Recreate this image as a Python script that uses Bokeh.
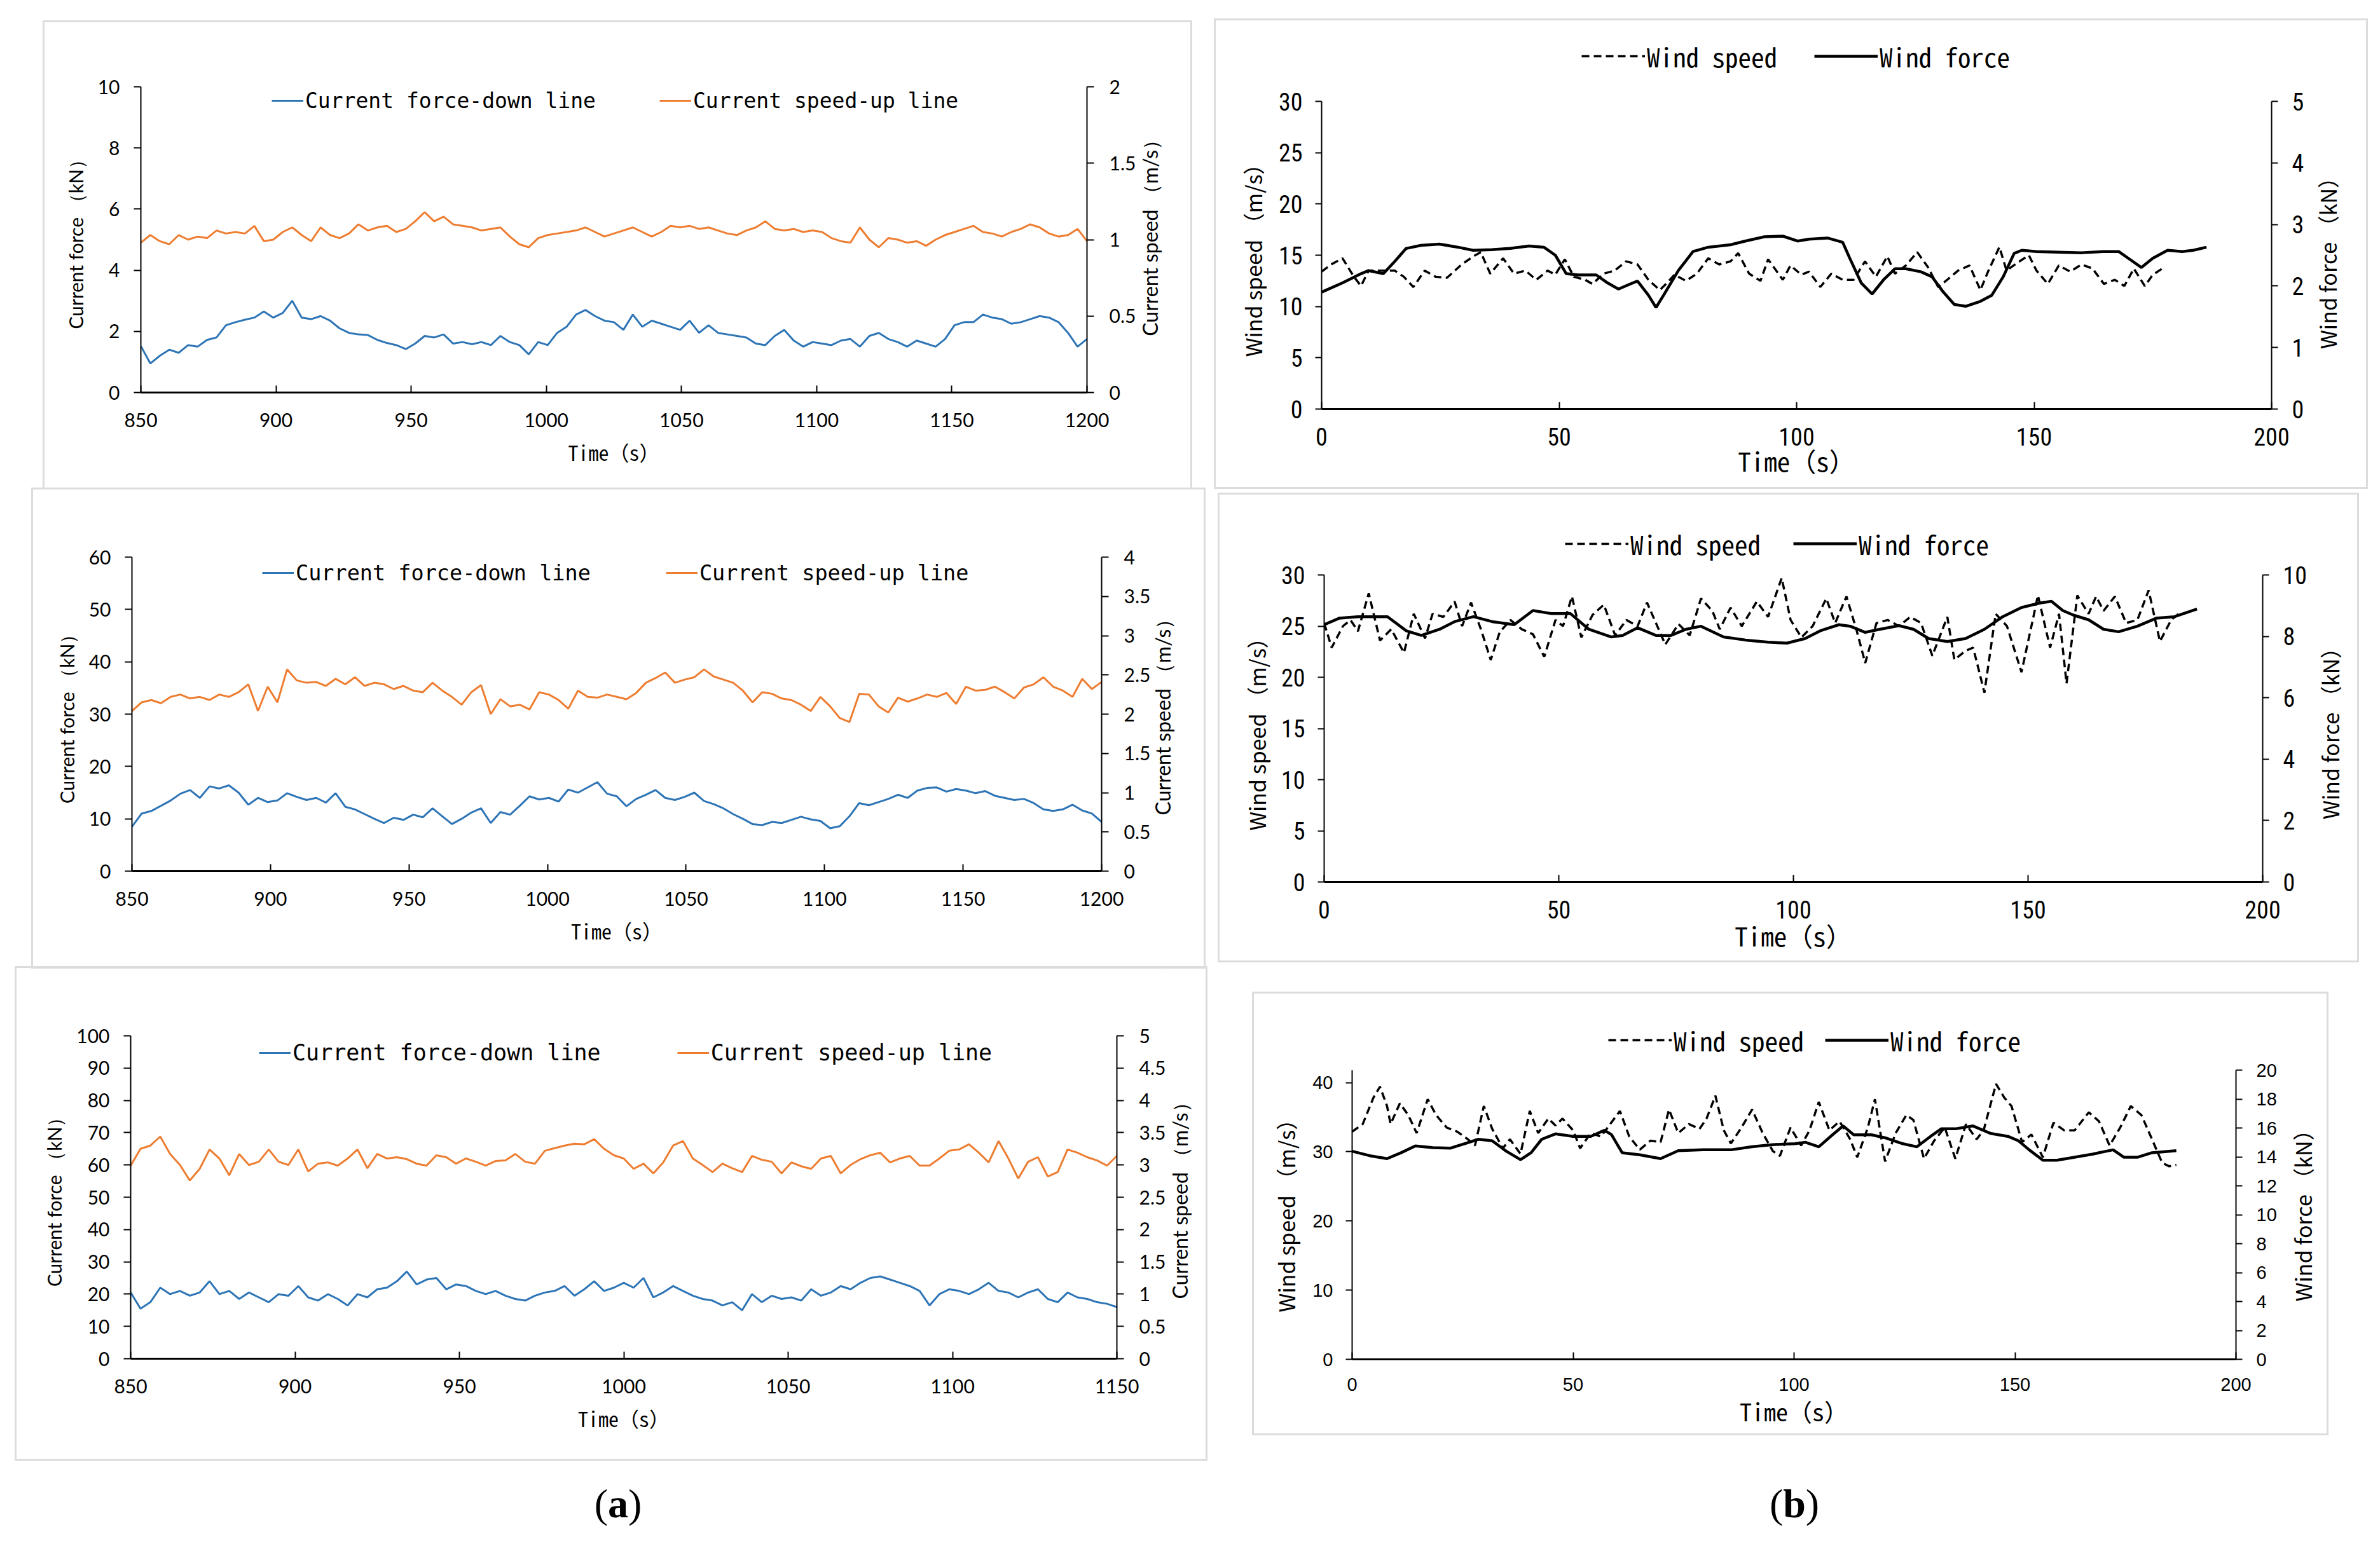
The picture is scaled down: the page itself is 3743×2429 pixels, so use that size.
import math
import numpy as np
from bokeh.plotting import figure
from bokeh.models import Range1d, LinearAxis, FixedTicker, Legend, LegendItem, Spacer, Div
from bokeh.layouts import row, column
from bokeh.embed import file_html
from bokeh.resources import INLINE
from bokeh.core.properties import value

# ---------------------------------------------------------------- data
# (a) current tests: force on the down line (kN) and current speed on the up line (m/s)
cur1_force = [1.52, 0.95, 1.20, 1.40, 1.30, 1.55, 1.50, 1.72, 1.80, 2.20,
              2.30, 2.38, 2.45, 2.65, 2.45, 2.60, 3.00, 2.45, 2.40, 2.50,
              2.35, 2.10, 1.95, 1.90, 1.88, 1.72, 1.62, 1.55, 1.42, 1.60,
              1.85, 1.80, 1.90, 1.60, 1.65, 1.58, 1.65, 1.55, 1.85, 1.65,
              1.55, 1.25, 1.65, 1.55, 1.95, 2.15, 2.55, 2.70, 2.50, 2.35,
              2.30, 2.05, 2.55, 2.15, 2.35, 2.25, 2.15, 2.05, 2.35, 1.95,
              2.20, 1.95, 1.90, 1.85, 1.80, 1.60, 1.55, 1.85, 2.05, 1.70,
              1.50, 1.65, 1.60, 1.55, 1.70, 1.75, 1.50, 1.85, 1.95, 1.75,
              1.65, 1.50, 1.70, 1.60, 1.50, 1.75, 2.20, 2.30, 2.30, 2.55,
              2.45, 2.40, 2.25, 2.30, 2.40, 2.50, 2.45, 2.30, 1.95, 1.50,
              1.75]
cur1_speed = [0.98, 1.03, 0.99, 0.97, 1.03, 1.00, 1.02, 1.01, 1.06, 1.04,
              1.05, 1.04, 1.09, 0.99, 1.00, 1.05, 1.08, 1.03, 0.99, 1.08,
              1.03, 1.01, 1.04, 1.10, 1.06, 1.08, 1.09, 1.05, 1.07, 1.12,
              1.18, 1.12, 1.15, 1.10, 1.09, 1.08, 1.06, 1.07, 1.08, 1.02,
              0.97, 0.95, 1.01, 1.03, 1.04, 1.05, 1.06, 1.08, 1.05, 1.02,
              1.04, 1.06, 1.08, 1.05, 1.02, 1.05, 1.09, 1.08, 1.09, 1.07,
              1.08, 1.06, 1.04, 1.03, 1.06, 1.08, 1.12, 1.07, 1.06, 1.07,
              1.05, 1.06, 1.05, 1.01, 0.99, 0.98, 1.08, 1.00, 0.95, 1.01,
              1.00, 0.98, 0.99, 0.96, 1.00, 1.03, 1.05, 1.07, 1.09, 1.05,
              1.04, 1.02, 1.05, 1.07, 1.10, 1.08, 1.04, 1.02, 1.03, 1.07,
              0.99]
cur2_force = [8.5, 11.0, 11.5, 12.5, 13.5, 14.8, 15.5, 14.0, 16.2, 15.8,
              16.4, 15.0, 12.7, 14.0, 13.2, 13.5, 14.9, 14.2, 13.6, 14.0,
              13.1, 14.9, 12.3, 11.8, 10.9, 10.0, 9.2, 10.2, 9.8, 10.8,
              10.3, 12.0, 10.5, 9.0, 10.0, 11.2, 12.0, 9.2, 11.3, 10.8,
              12.5, 14.3, 13.7, 14.0, 13.3, 15.6, 15.0, 16.0, 17.0, 14.8,
              14.3, 12.4, 13.8, 14.6, 15.5, 14.0, 13.6, 14.2, 15.0, 13.4,
              12.8, 12.0, 10.9, 10.0, 9.0, 8.8, 9.4, 9.2, 9.8, 10.4,
              9.9, 9.6, 8.2, 8.6, 10.5, 13.0, 12.6, 13.2, 13.8, 14.6,
              14.0, 15.4, 15.9, 16.0, 15.2, 15.7, 15.4, 14.9, 15.3, 14.4,
              14.0, 13.6, 13.8, 13.0, 11.8, 11.5, 11.8, 12.7, 11.6, 11.0,
              9.4]
cur2_speed = [2.04, 2.15, 2.18, 2.14, 2.22, 2.25, 2.20, 2.22, 2.18, 2.25,
              2.22, 2.28, 2.38, 2.04, 2.35, 2.15, 2.57, 2.43, 2.40, 2.41,
              2.36, 2.45, 2.38, 2.47, 2.36, 2.40, 2.38, 2.32, 2.36, 2.30,
              2.28, 2.40, 2.30, 2.22, 2.12, 2.28, 2.37, 2.00, 2.19, 2.10,
              2.12, 2.06, 2.28, 2.25, 2.18, 2.07, 2.30, 2.22, 2.21, 2.25,
              2.22, 2.19, 2.27, 2.40, 2.46, 2.53, 2.40, 2.44, 2.47, 2.57,
              2.48, 2.44, 2.40, 2.30, 2.15, 2.28, 2.26, 2.20, 2.18, 2.12,
              2.04, 2.22, 2.10, 1.95, 1.90, 2.26, 2.25, 2.10, 2.02, 2.21,
              2.16, 2.20, 2.25, 2.22, 2.27, 2.13, 2.35, 2.30, 2.31, 2.35,
              2.28, 2.20, 2.34, 2.38, 2.47, 2.35, 2.30, 2.22, 2.45, 2.32,
              2.41]
cur3_force = [20.5, 15.5, 17.5, 22.0, 20.0, 21.0, 19.5, 20.5, 24.0, 20.0,
              21.0, 18.5, 20.5, 19.0, 17.5, 20.0, 19.5, 22.5, 19.0, 18.0,
              20.0, 18.5, 16.5, 20.0, 19.0, 21.5, 22.0, 24.0, 27.0, 23.0,
              24.5, 25.0, 21.5, 23.0, 22.5, 21.0, 20.0, 21.0, 19.5, 18.5,
              18.0, 19.5, 20.5, 21.0, 22.5, 19.5, 21.5, 24.0, 21.0, 22.0,
              23.5, 22.0, 25.0, 19.0, 20.5, 22.5, 21.0, 19.5, 18.5, 18.0,
              16.5, 17.5, 15.0, 20.0, 17.5, 19.5, 18.5, 19.0, 18.0, 21.5,
              19.5, 20.5, 22.5, 21.5, 23.5, 25.0, 25.5, 24.5, 23.5, 22.5,
              21.0, 16.5, 20.0, 21.5, 21.0, 20.0, 21.5, 23.5, 21.0, 20.5,
              19.0, 20.5, 21.5, 18.5, 17.5, 20.5, 19.0, 18.5, 17.5, 17.0,
              16.0]
cur3_speed = [2.99, 3.25, 3.30, 3.44, 3.17, 3.00, 2.76, 2.94, 3.24, 3.10,
              2.84, 3.17, 3.00, 3.05, 3.24, 3.05, 3.00, 3.24, 2.90, 3.02,
              3.04, 2.99, 3.10, 3.24, 2.95, 3.17, 3.10, 3.12, 3.09, 3.02,
              2.99, 3.15, 3.12, 3.02, 3.10, 3.05, 2.99, 3.06, 3.07, 3.17,
              3.05, 3.02, 3.22, 3.26, 3.30, 3.33, 3.32, 3.40, 3.25, 3.15,
              3.10, 2.94, 3.02, 2.87, 3.04, 3.30, 3.37, 3.10, 3.00, 2.89,
              3.02, 2.95, 2.89, 3.14, 3.08, 3.05, 2.87, 3.04, 2.98, 2.94,
              3.10, 3.14, 2.87, 3.00, 3.09, 3.15, 3.19, 3.04, 3.10, 3.14,
              2.99, 2.99, 3.10, 3.22, 3.24, 3.32, 3.19, 3.04, 3.37, 3.10,
              2.79, 3.05, 3.12, 2.82, 2.89, 3.24, 3.19, 3.12, 3.07, 2.99,
              3.14]
cur_spans = [(850, 1200), (850, 1200), (850, 1150)]   # sampled evenly over each record

# (b) wind tests: wind speed (m/s) and wind force (kN)
wind1_speed_t = [0, 2, 4.4, 6.8, 8.3, 9.9, 12.3, 15.4, 17.3, 19.3, 21.7, 24, 26.4, 29.5, 32, 33.5,
                 35.5, 38.2, 40.5, 42.9, 45.2, 47.6, 49.2, 51.2, 53.1, 55.5, 57, 59.4, 61.7, 64.1,
                 66.5, 68.8, 71.2, 72.7, 74.3, 76.7, 79, 81.4, 83.7, 86.1, 87.7, 90, 92.4, 94, 97.1,
                 98.7, 101, 102.6, 105, 107.3, 109.7, 112, 114.4, 116.7, 119.1, 120.7, 123, 125.4,
                 127.7, 129.8, 131.7, 134, 136.4, 138.7, 140.3, 142.7, 144.2, 146.6, 148.9, 150.5,
                 152.9, 155.2, 157.6, 160, 162.3, 164.7, 167, 169, 171, 173.3, 175, 177]
wind1_speed = [13.4, 14.1, 14.7, 12.9, 12.0, 13.5, 13.5, 13.5, 12.9, 11.9, 13.5, 12.9, 12.8, 14.1,
               14.9, 15.3, 13.2, 14.7, 13.2, 13.5, 12.6, 13.5, 13.1, 14.6, 12.9, 12.6, 12.2, 13.2,
               13.5, 14.4, 14.1, 12.6, 11.6, 12.3, 13.1, 12.5, 13.2, 14.7, 14.1, 14.4, 15.2, 13.2,
               12.5, 14.6, 12.6, 14.0, 13.1, 13.4, 11.9, 13.2, 12.6, 12.6, 14.4, 12.9, 14.9, 13.2,
               14.0, 15.3, 13.8, 11.9, 12.6, 13.5, 14.0, 11.6, 13.4, 15.8, 13.5, 14.3, 15.0, 13.5,
               12.2, 14.0, 13.4, 14.1, 13.7, 12.2, 12.6, 12.0, 13.7, 12.0, 13.1, 13.7]
wind1_force_t = [0, 4.4, 8.3, 9.9, 13, 15.4, 17.8, 20.9, 24.8, 28.7, 31.9, 35.8, 39.7, 43.7, 46.8,
                 49.2, 51.5, 53.9, 57.8, 60.2, 62.5, 64.9, 66.5, 68.8, 70.4, 72, 75.1, 78.2, 81.4,
                 86.1, 89.2, 93.2, 97.1, 100.2, 102.6, 106.5, 109.7, 111.2, 113.6, 115.9, 118.3,
                 120.7, 123, 126.2, 128.5, 130.9, 133.2, 135.6, 138.7, 141.1, 143.5, 145.8, 147.4,
                 150.5, 155.2, 160, 164.7, 167.8, 170.2, 172.6, 175, 178.1, 181.2, 183.5, 186.3]
wind1_force = [1.90, 2.05, 2.20, 2.25, 2.20, 2.40, 2.61, 2.66, 2.68, 2.63, 2.58, 2.59, 2.61, 2.65,
               2.63, 2.50, 2.20, 2.18, 2.18, 2.05, 1.95, 2.03, 2.08, 1.85, 1.65, 1.85, 2.25, 2.56,
               2.63, 2.67, 2.73, 2.80, 2.81, 2.73, 2.76, 2.78, 2.71, 2.45, 2.05, 1.87, 2.10, 2.28,
               2.28, 2.23, 2.15, 1.90, 1.70, 1.67, 1.75, 1.85, 2.15, 2.53, 2.58, 2.56, 2.55, 2.54,
               2.56, 2.56, 2.43, 2.30, 2.45, 2.58, 2.56, 2.58, 2.63]

wind2_speed_t = [0, 1.6, 4, 5.6, 7.2, 9.5, 11.9, 14.3, 17, 19.1, 21.5, 23.1, 25.4, 27.8, 29.4, 31.3,
                 33.4, 35.5, 37.4, 39.7, 42.1, 44.5, 46.9, 49.3, 50.9, 52.8, 54.8, 57.2, 59.6, 62,
                 64.4, 66.8, 68.8, 70.7, 72.7, 75.5, 77.9, 80.3, 82.7, 84.3, 86.6, 89, 92.2, 94.6,
                 97.5, 99.4, 101.7, 104.1, 107, 108.9, 111.3, 113.4, 115.3, 117.7, 120.1, 122.5,
                 124.9, 127.2, 129.6, 132.8, 134.3, 136.7, 138.3, 140.7, 143.1, 145.5, 148.6, 151,
                 152.1, 154.7, 156.6, 158.2, 160.5, 162.9, 164.5, 166.1, 168.5, 170.9, 173.3, 175.7,
                 178.1, 180.5, 182.1]
wind2_speed = [25.3, 22.9, 25.0, 25.6, 24.5, 28.2, 23.6, 24.7, 22.4, 26.2, 23.8, 26.2, 25.9, 27.4,
               25.0, 27.3, 24.7, 21.7, 24.4, 25.6, 24.7, 24.2, 22.0, 25.6, 25.0, 27.9, 23.9, 26.1,
               27.1, 24.1, 25.6, 25.0, 27.3, 25.3, 23.2, 25.2, 24.1, 27.7, 26.5, 24.7, 26.8, 25.0,
               27.4, 25.9, 29.7, 25.6, 23.9, 25.0, 27.7, 25.3, 27.9, 24.7, 21.4, 25.3, 25.6, 25.0,
               25.9, 25.3, 22.1, 25.9, 21.7, 22.6, 22.9, 18.5, 26.2, 25.0, 20.5, 25.6, 28.0, 22.9,
               26.2, 19.4, 28.0, 26.2, 27.9, 26.5, 27.9, 25.3, 25.6, 28.5, 23.5, 25.6, 26.2]
wind2_force_t = [0, 3.2, 7.2, 13.5, 17.5, 20.7, 24.6, 27.8, 31.8, 35.8, 40.5, 44.5, 48.5, 52.5,
                 56.4, 61.2, 63.6, 66.8, 70.7, 73.9, 77.1, 80.3, 85.1, 89.8, 94.6, 98.6, 102.5,
                 105.7, 109.7, 112.1, 115.3, 118.4, 122.5, 125.6, 128.8, 132.8, 136.7, 140.7, 144.6,
                 148.6, 152.6, 155, 157.4, 159.7, 162.9, 166.1, 169.3, 173.3, 177.3, 181.2, 186]
wind2_force = [8.38, 8.59, 8.64, 8.64, 8.18, 8.03, 8.23, 8.48, 8.64, 8.48, 8.38, 8.84, 8.74, 8.74,
               8.23, 7.98, 8.03, 8.28, 8.03, 8.03, 8.23, 8.33, 7.98, 7.88, 7.81, 7.78, 7.93, 8.18,
               8.38, 8.33, 8.13, 8.23, 8.35, 8.23, 7.93, 7.83, 7.93, 8.23, 8.64, 8.94, 9.09, 9.14,
               8.84, 8.69, 8.54, 8.23, 8.15, 8.33, 8.59, 8.64, 8.89]

wind3_speed_t = [0, 2.4, 4.8, 6.3, 7.9, 8.7, 10.8, 12.7, 14.6, 17.1, 19, 21.4, 23.8, 26.2, 27.8,
                 29.8, 31.7, 34.1, 35.7, 38.1, 40.2, 42.1, 44.4, 46, 47.6, 50, 51.6, 54, 56.3, 58.4,
                 60.6, 62.7, 65.1, 67.5, 69.8, 71.7, 73.8, 76.2, 78.6, 80.2, 82.2, 84.1, 85.7, 88.1,
                 90.5, 92.9, 95.2, 96.8, 99.2, 101.6, 103.5, 105.6, 108, 110.3, 112.7, 114.3, 116.7,
                 118.3, 120.6, 123, 125.4, 127, 129.4, 131.7, 134.1, 136.5, 138.9, 141.3, 142.9,
                 145.7, 147.6, 149.2, 151.6, 153.7, 156.3, 158.7, 161.1, 163.5, 166.7, 169, 171.4,
                 173.8, 176.2, 178.6, 181, 183.3, 184.9, 186.5]
wind3_speed = [32.9, 34.0, 37.8, 39.4, 36.6, 34.0, 37.0, 35.3, 32.7, 37.6, 35.3, 33.5, 32.9, 31.8,
               30.9, 36.6, 33.3, 30.5, 31.8, 29.7, 35.9, 32.7, 34.8, 33.8, 34.8, 33.1, 30.5, 32.7,
               32.2, 34.0, 35.9, 32.2, 30.3, 31.6, 31.4, 36.1, 32.7, 34.0, 33.3, 34.8, 38.1, 33.1,
               31.2, 33.5, 36.1, 32.7, 30.1, 29.4, 33.5, 30.9, 33.1, 37.2, 33.1, 34.4, 31.8, 29.2,
               33.5, 37.6, 28.6, 32.7, 35.3, 34.6, 29.0, 31.6, 33.5, 29.0, 34.0, 31.8, 33.1, 39.8,
               37.8, 36.6, 31.4, 32.5, 29.2, 34.2, 33.1, 33.1, 35.7, 34.4, 30.9, 33.5, 36.6, 35.3,
               31.8, 28.4, 27.9, 28.1]
wind3_force_t = [0, 4, 7.9, 11.1, 14.3, 18.3, 22.2, 25.4, 28.6, 31.7, 34.9, 38.1, 40.5, 42.9, 46,
                 50, 54, 57.1, 58.7, 61.1, 65.1, 69.8, 73.8, 79.4, 85.7, 90.5, 95.2, 100.2, 102.6,
                 105.6, 108.7, 111.1, 113.5, 117.5, 120.6, 124.6, 127.8, 130.9, 133.3, 136.5, 140.5,
                 144.4, 148.4, 150.8, 153.2, 156.3, 159.5, 163.5, 167.5, 172.2, 174.6, 177.8, 181,
                 186.5]
wind3_force = [14.39, 14.08, 13.88, 14.29, 14.76, 14.64, 14.60, 14.91, 15.22, 15.11, 14.39, 13.81,
               14.29, 15.22, 15.59, 15.42, 15.42, 15.84, 15.53, 14.29, 14.14, 13.88, 14.43, 14.49,
               14.49, 14.70, 14.85, 14.91, 15.01, 14.70, 15.53, 16.14, 15.53, 15.53, 15.32, 14.91,
               14.70, 15.42, 15.94, 15.94, 16.14, 15.63, 15.42, 15.11, 14.49, 13.77, 13.77, 13.98,
               14.19, 14.49, 13.98, 13.98, 14.29, 14.43]

# axis ticks
cur_x_ticks = [[850, 900, 950, 1000, 1050, 1100, 1150, 1200],
               [850, 900, 950, 1000, 1050, 1100, 1150, 1200],
               [850, 900, 950, 1000, 1050, 1100, 1150]]
cur_force_ticks = [[0, 2, 4, 6, 8, 10],
                   [0, 10, 20, 30, 40, 50, 60],
                   [0, 10, 20, 30, 40, 50, 60, 70, 80, 90, 100]]
cur_speed_ticks = [[0, 0.5, 1, 1.5, 2],
                   [0, 0.5, 1, 1.5, 2, 2.5, 3, 3.5, 4],
                   [0, 0.5, 1, 1.5, 2, 2.5, 3, 3.5, 4, 4.5, 5]]
wind_x_ticks = [0, 50, 100, 150, 200]
wind_speed_ticks = [[0, 5, 10, 15, 20, 25, 30],
                    [0, 5, 10, 15, 20, 25, 30],
                    [0, 10, 20, 30, 40]]
wind_force_ticks = [[0, 1, 2, 3, 4, 5],
                    [0, 2, 4, 6, 8, 10],
                    [0, 2, 4, 6, 8, 10, 12, 14, 16, 18, 20]]
wind_speed_top = [30, 30, 41.8]

BLUE = "#2E75B6"
ORANGE = "#ED7D31"
BOX_STYLE = {"outline": "3px solid #dcdcdc"}


def fmt(v):
    return f"{v:g}"


def style_axis(ax, ticks, tick_font, tick_size, lw, t_in, t_out, standoff,
               lab_font="Lato", lab_size="30px", lab_standoff=10):
    ax.ticker = FixedTicker(ticks=ticks)
    ax.major_label_overrides = {t: fmt(t) for t in ticks}
    ax.axis_line_color = "black"
    ax.axis_line_width = lw
    ax.major_tick_line_color = "black"
    ax.major_tick_line_width = 2
    ax.major_tick_in = t_in
    ax.major_tick_out = t_out
    ax.minor_tick_line_color = None
    ax.major_label_text_font = tick_font
    ax.major_label_text_font_size = tick_size
    ax.major_label_text_color = "black"
    ax.major_label_standoff = standoff
    ax.axis_label_text_font = lab_font
    ax.axis_label_text_font_size = lab_size
    ax.axis_label_text_font_style = "normal"
    ax.axis_label_text_color = "black"
    ax.axis_label_standoff = lab_standoff


def main_figure(x0, y0, x1, y1, frame, xr, yr, yr2):
    fx0, fy0, fx1, fy1 = frame
    p = figure(frame_width=fx1 - fx0, frame_height=fy1 - fy0,
               min_border_left=fx0 - x0, min_border_right=x1 - fx1,
               min_border_top=fy0 - y0, min_border_bottom=y1 - fy1,
               x_range=Range1d(*xr), y_range=Range1d(*yr),
               output_backend="svg", toolbar_location=None,
               background_fill_color="white", border_fill_color="white")
    p.outline_line_color = None
    p.xgrid.visible = False
    p.ygrid.visible = False
    p.extra_y_ranges = {"r": Range1d(*yr2)}
    return p


def title_strip(width, height, sx, sy, text, font, size):
    """A narrow strip holding one vertical title that reads upward from (sx, sy)."""
    f = figure(width=width, height=height, x_range=Range1d(0, width), y_range=Range1d(height, 0),
               x_axis_type=None, y_axis_type=None, output_backend="svg", toolbar_location=None,
               min_border=0, background_fill_color="white", border_fill_color="white")
    f.outline_line_color = None
    f.grid.visible = False
    f.text(x=[sx], y=[sy], text=[text], angle=math.pi / 2, text_align="left",
           text_baseline="middle", text_font=value(font), text_font_size=size, text_color="black")
    return f


def current_panel(i, box, frame, split, rtitle_xy, leg_xy, leg_spacing, leg_size):
    bx0, by0, bx1, by1 = box
    force = [cur1_force, cur2_force, cur3_force][i]
    speed = [cur1_speed, cur2_speed, cur3_speed][i]
    t0, t1 = cur_spans[i]
    tf = np.linspace(t0, t1, len(force))
    ts = np.linspace(t0, t1, len(speed))
    fticks = cur_force_ticks[i]
    sticks = cur_speed_ticks[i]
    p = main_figure(bx0, by0, split, by1, frame, (t0, t1), (0, fticks[-1]), (0, sticks[-1]))

    style_axis(p.xaxis[0], cur_x_ticks[i], "Lato", "30px", 3, 11, 0, 32,
               "Noto Sans Mono CJK SC", "32px", 13)
    p.xaxis[0].axis_label = "Time（s）"
    style_axis(p.yaxis[0], fticks, "Lato", "30px", 2, 0, 11, 22, "Lato", "30px", 14)
    p.yaxis[0].axis_label = "Current force （kN）"
    ax_r = LinearAxis(y_range_name="r")
    style_axis(ax_r, sticks, "Lato", "30px", 2, 0, 11, 24)
    p.add_layout(ax_r, "right")

    r_f = p.line(tf, force, line_color=BLUE, line_width=3)
    r_s = p.line(ts, speed, line_color=ORANGE, line_width=3, y_range_name="r")

    leg = Legend(items=[LegendItem(label="Current force-down line", renderers=[r_f]),
                        LegendItem(label="Current speed-up line", renderers=[r_s])],
                 orientation="horizontal", location=leg_xy,
                 label_text_font="DejaVu Sans Mono", label_text_font_size=leg_size,
                 label_text_color="black", glyph_width=50, glyph_height=40,
                 label_height=40, label_standoff=3, spacing=leg_spacing,
                 padding=0, margin=0, border_line_color=None, background_fill_alpha=0)
    p.add_layout(leg)

    rt = title_strip(bx1 - split, by1 - by0, rtitle_xy[0] - split, rtitle_xy[1] - by0,
                     "Current speed （m/s）", "Lato", "32px")
    return row(p, rt, styles=BOX_STYLE)


def wind_panel(i, box, frame, ext_top, lsplit, rsplit, ltitle_xy, rtitle_xy,
               leg_xy, leg_spacing, tick_font, tick_size, tick_standoff, time_size, time_standoff):
    bx0, by0, bx1, by1 = box
    fx0, fy0, fx1, fy1 = frame
    st = [wind1_speed_t, wind2_speed_t, wind3_speed_t][i]
    sv = [wind1_speed, wind2_speed, wind3_speed][i]
    ft = [wind1_force_t, wind2_force_t, wind3_force_t][i]
    fv = [wind1_force, wind2_force, wind3_force][i]
    stop = wind_speed_top[i]
    fticks = wind_force_ticks[i]
    ftop = fticks[-1]
    # the frame reaches up to hold the legend; the axes stop at their own top values
    grow = (fy1 - ext_top) / (fy1 - fy0)
    p = main_figure(lsplit, by0, rsplit, by1, (fx0, ext_top, fx1, fy1),
                    (0, wind_x_ticks[-1]), (0, stop * grow), (0, ftop * grow))

    style_axis(p.xaxis[0], wind_x_ticks, tick_font, tick_size, 3, 11, 0, tick_standoff,
               "Noto Sans Mono CJK SC", time_size, time_standoff)
    p.xaxis[0].axis_label = "Time（s）"
    style_axis(p.yaxis[0], wind_speed_ticks[i], tick_font, tick_size, 2, 0, 10, 20)
    p.yaxis[0].bounds = (0, stop)
    ax_r = LinearAxis(y_range_name="r", bounds=(0, ftop))
    style_axis(ax_r, fticks, tick_font, tick_size, 2, 0, 10, 22)
    p.add_layout(ax_r, "right")

    r_s = p.line(st, sv, line_color="black", line_width=3.5, line_dash="12 7")
    r_f = p.line(ft, fv, line_color="black", line_width=4.5, y_range_name="r")

    leg = Legend(items=[LegendItem(label="Wind speed", renderers=[r_s]),
                        LegendItem(label="Wind force", renderers=[r_f])],
                 orientation="horizontal", location=leg_xy,
                 label_text_font="Noto Sans Mono CJK SC", label_text_font_size="41px",
                 label_text_color="black", glyph_width=100, glyph_height=60,
                 label_height=60, label_standoff=3, spacing=leg_spacing,
                 padding=0, margin=0, border_line_color=None, background_fill_alpha=0)
    p.add_layout(leg)

    lt = title_strip(lsplit - bx0, by1 - by0, ltitle_xy[0] - bx0, ltitle_xy[1] - by0,
                     "Wind speed （m/s）", "Noto Sans CJK SC", "34px")
    rt = title_strip(bx1 - rsplit, by1 - by0, rtitle_xy[0] - rsplit, rtitle_xy[1] - by0,
                     "Wind force （kN）", "Noto Sans CJK SC", "34px")
    return row(lt, p, rt, styles=BOX_STYLE)


# panel boxes and plot frames: (left, top, right, bottom) in page pixels;
# title positions are the anchor points of the vertical titles
L1 = current_panel(0, (70, 35, 1872, 767), (221, 136, 1709, 617), 1790, (1808, 632),
                   (206, 439), 100, "33px")
L2 = current_panel(1, (52, 770, 1893, 1522), (207, 876, 1732, 1370), 1812, (1828, 1388),
                   (205, 449), 118, "33.5px")
L3 = current_panel(2, (26, 1523, 1896, 2295), (205, 1629, 1756, 2137), 1836, (1855, 2152),
                   (202, 461), 120, "35px")

R1 = wind_panel(0, (1912, 32, 3721, 766), (2078, 159, 3572, 643), 40, 1992, 3630,
                (1970, 666), (3660, 651), (409, 525), 58,
                "Roboto Condensed", "38px", 29, "41px", -10)
R2 = wind_panel(1, (1918, 778, 3707, 1511), (2082, 904, 3558, 1387), 790, 1998, 3640,
                (1976, 1412), (3664, 1390), (379, 502), 51,
                "Roboto Condensed", "38px", 29, "41px", -7)
R3 = wind_panel(2, (1972, 1563, 3659, 2255), (2126, 1683, 3516, 2138), 1575, 2052, 3590,
                (2022, 2164), (3621, 2143), (403, 472), 33,
                "Liberation Sans", "29px", 29, "38px", 1)

left = column(Spacer(height=35), row(Spacer(width=70), L1), Spacer(height=3),
              row(Spacer(width=52), L2), Spacer(height=1), row(Spacer(width=26), L3))
right = column(Spacer(height=32), row(Spacer(width=12), R1), Spacer(height=12),
               row(Spacer(width=18), R2), Spacer(height=52), row(Spacer(width=72), R3))


def tag(letter):
    return Div(text=('<div style="width:200px;text-align:center;font-family:\'Liberation Serif\';'
                     'font-size:64px;line-height:72px;color:black">(<b>%s</b>)</div>' % letter),
               width=200, height=80)


labels = row(Spacer(width=867), tag("a"), Spacer(width=1640), tag("b"))
page = column(row(left, Spacer(width=4), right), Spacer(height=30), labels)

open("out.html", "w").write(file_html(page, INLINE))
